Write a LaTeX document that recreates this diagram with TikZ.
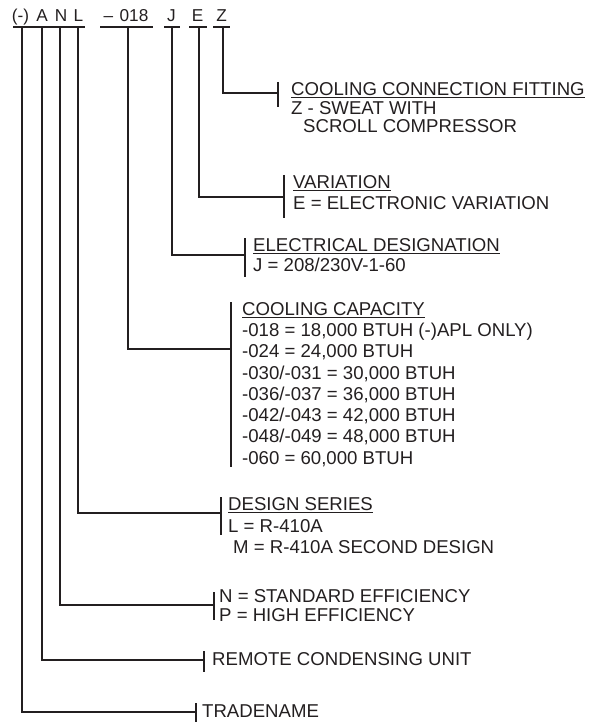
\documentclass[tikz,border=0pt]{standalone}
\usepackage{fontspec}
\setmainfont{Liberation Sans}
\definecolor{ink}{HTML}{231F20}
\begin{document}
\begin{tikzpicture}[x=1pt,y=-1pt,
  ln/.style={draw=ink,line width=2pt},
  tk/.style={draw=ink,line width=2.2pt},
  ulx/.style={draw=ink,line width=1pt},
  hdr/.style={anchor=base,inner sep=0pt,text=ink,font=\fontsize{17.2}{19}\selectfont},
  txt/.style={anchor=base west,inner sep=0pt,text=ink,font=\fontsize{18.6}{21}\selectfont}]
\useasboundingbox (0,0) rectangle (603,722);
% header
\node[hdr] (hpar) at (20.5,22) {(-)};
\node[hdr] (hA) at (42,22) {A};
\node[hdr] (hN) at (61,22) {N};
\node[hdr] (hL) at (78.5,22) {L};
\node[hdr] (hdash) at (108.5,22) {–};
\node[hdr] (h018) at (134,22) {018};
\node[hdr] (hJ) at (171.5,22) {J};
\node[hdr] (hE) at (197.5,22) {E};
\node[hdr] (hZ) at (221.5,22) {Z};
\draw[ln] (13,27) -- (85,27);
\draw[ln] (100,27) -- (153,27);
\draw[ln] (164,27) -- (180,27);
\draw[ln] (189,27) -- (207,27);
\draw[ln] (213,27) -- (230,27);
% top coordinates of the connectors
\coordinate (tpar) at (22,27);
\coordinate (tA) at (42,27);
\coordinate (tN) at (60,27);
\coordinate (tL) at (78,27);
\coordinate (t018) at (128,27);
\coordinate (tJ) at (172,27);
\coordinate (tE) at (199,27);
\coordinate (tZ) at (223,27);
% Z block
\coordinate (kZ) at (278,93);
\draw[ln] (tZ) |- (kZ);
\draw[tk] (278,82) -- (278,107);
\node[txt] (z1) at (291,96) {COOLING CONNECTION FITTING};
\draw[ulx] ([yshift=-2pt]z1.base west) -- ([yshift=-2pt]z1.base east);
\node[txt] (z2) at (291,115) {Z - SWEAT WITH};
\node[txt] (z3) at (303,133) {SCROLL COMPRESSOR};
% E block
\coordinate (kE) at (284,197);
\draw[ln] (tE) |- (kE);
\draw[tk] (284,175) -- (284,218);
\node[txt] (e1) at (293,188) {VARIATION};
\draw[ulx] ([yshift=-2pt]e1.base west) -- ([yshift=-2pt]e1.base east);
\node[txt] (e2) at (293,209) {E = ELECTRONIC VARIATION};
% J block
\coordinate (kJ) at (245,255);
\draw[ln] (tJ) |- (kJ);
\draw[tk] (245,238) -- (245,277);
\node[txt] (j1) at (253,251) {ELECTRICAL DESIGNATION};
\draw[ulx] ([yshift=-2pt]j1.base west) -- ([yshift=-2pt]j1.base east);
\node[txt] (j2) at (253,271) {J = 208/230V-1-60};
% capacity block
\coordinate (kC) at (231,349);
\draw[ln] (t018) |- (kC);
\draw[tk] (231,302) -- (231,467);
\node[txt] (c1) at (242,315) {COOLING CAPACITY};
\draw[ulx] ([yshift=-2pt]c1.base west) -- ([yshift=-2pt]c1.base east);
\node[txt] (c2) at (242,336) {-018 = 18,000 BTUH (-)APL ONLY)};
\node[txt] (c3) at (242,357) {-024 = 24,000 BTUH};
\node[txt] (c4) at (242,379) {-030/-031 = 30,000 BTUH};
\node[txt] (c5) at (242,400) {-036/-037 = 36,000 BTUH};
\node[txt] (c6) at (242,421) {-042/-043 = 42,000 BTUH};
\node[txt] (c7) at (242,442) {-048/-049 = 48,000 BTUH};
\node[txt] (c8) at (242,464) {-060 = 60,000 BTUH};
% design series
\coordinate (kL) at (221,513);
\draw[ln] (tL) |- (kL);
\draw[tk] (221,497) -- (221,535);
\node[txt] (l1) at (228,510) {DESIGN SERIES};
\draw[ulx] ([yshift=-2pt]l1.base west) -- ([yshift=-2pt]l1.base east);
\node[txt] (l2) at (228,532) {L = R-410A};
\node[txt] (l3) at (233,553) {M = R-410A SECOND DESIGN};
% efficiency
\coordinate (kN) at (214,605);
\draw[ln] (tN) |- (kN);
\draw[tk] (214,592) -- (214,620);
\node[txt] (n1) at (219,602) {N = STANDARD EFFICIENCY};
\node[txt] (n2) at (219,621.5) {P = HIGH EFFICIENCY};
% remote
\coordinate (kA) at (204,660);
\draw[ln] (tA) |- (kA);
\draw[tk] (204,651) -- (204,672);
\node[txt] (a1) at (212,665.5) {REMOTE CONDENSING UNIT};
% tradename
\coordinate (kP) at (196,712);
\draw[ln] (tpar) |- (kP);
\draw[tk] (196,703) -- (196,722);
\node[txt] (p1) at (202,717) {TRADENAME};
\end{tikzpicture}
\end{document}
